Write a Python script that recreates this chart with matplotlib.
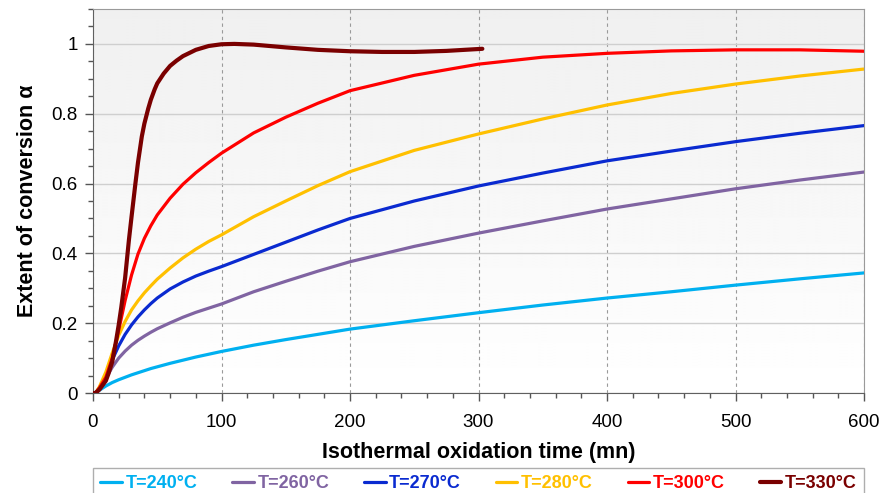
import numpy as np
import matplotlib
matplotlib.use("Agg")
import matplotlib.pyplot as plt
from matplotlib.ticker import MultipleLocator

plt.rcParams['font.family'] = ['Liberation Sans', 'DejaVu Sans']

# time grid (mn) shared by the five slower series
t = [0, 2, 5, 10, 15, 20, 25, 30, 35, 40, 45, 50, 60, 70, 80, 90, 100,
     125, 150, 175, 200, 250, 300, 350, 400, 450, 500, 550, 600]

a240 = [0, 0, 0.008, 0.02, 0.03, 0.038, 0.045, 0.052, 0.058, 0.064, 0.07, 0.075,
        0.085, 0.094, 0.103, 0.111, 0.119, 0.137, 0.153, 0.168, 0.183,
        0.207, 0.23, 0.252, 0.272, 0.29, 0.309, 0.327, 0.344]
a260 = [0, 0, 0.012, 0.042, 0.074, 0.10, 0.12, 0.137, 0.151, 0.163, 0.174, 0.184,
        0.201, 0.217, 0.231, 0.243, 0.255, 0.29, 0.32, 0.349, 0.376,
        0.42, 0.458, 0.493, 0.527, 0.556, 0.585, 0.61, 0.633]
a270 = [0, 0, 0.015, 0.05, 0.095, 0.135, 0.168, 0.195, 0.218, 0.238, 0.256, 0.272,
        0.298, 0.318, 0.335, 0.349, 0.362, 0.397, 0.432, 0.467, 0.50,
        0.55, 0.593, 0.63, 0.665, 0.693, 0.72, 0.744, 0.766]
a280 = [0, 0, 0.018, 0.06, 0.115, 0.165, 0.205, 0.238, 0.264, 0.287, 0.307, 0.326,
        0.358, 0.387, 0.412, 0.434, 0.453, 0.505, 0.55, 0.594, 0.634,
        0.695, 0.742, 0.785, 0.825, 0.858, 0.885, 0.908, 0.928]
a300 = [0, 0, 0.015, 0.045, 0.10, 0.18, 0.265, 0.338, 0.398, 0.443, 0.479, 0.51,
        0.558, 0.598, 0.631, 0.66, 0.687, 0.745, 0.79, 0.83, 0.866,
        0.91, 0.942, 0.962, 0.973, 0.98, 0.983, 0.983, 0.979]

# 330°C run stops around 300 mn
t330 = [0, 2, 5, 8, 10, 12, 15, 18, 20, 22, 25, 28, 30, 33, 35, 38, 40, 43, 45,
        48, 50, 55, 60, 65, 70, 80, 90, 100, 110, 125, 150, 175, 200, 225, 250,
        275, 303]
a330 = [0, 0, 0.01, 0.025, 0.035, 0.055, 0.09, 0.15, 0.195, 0.245, 0.33, 0.44, 0.505,
        0.60, 0.66, 0.735, 0.772, 0.815, 0.84, 0.87, 0.887, 0.915, 0.937, 0.952,
        0.965, 0.983, 0.994, 0.999, 1.0, 0.998, 0.99, 0.983, 0.979, 0.977, 0.977,
        0.98, 0.986]

labels = ['T=240°C', 'T=260°C', 'T=270°C', 'T=280°C', 'T=300°C', 'T=330°C']
colors = ['#00b0f0', '#8064a2', '#0a2ad0', '#ffc000', '#ff0000', '#7a0000']

fig = plt.figure(figsize=(8.91, 4.93), dpi=100)
ax = fig.add_axes([93 / 891, 100 / 493, 771 / 891, 384 / 493])

# light grey to white background
grad = np.linspace(0.94, 1.0, 256).reshape(-1, 1)
ax.imshow(grad, extent=[0, 1, 0, 1], transform=ax.transAxes, aspect='auto',
          cmap='gray', vmin=0, vmax=1, zorder=0)

series = [(t, a240), (t, a260), (t, a270), (t, a280), (t, a300), (t330, a330)]
for (x, y), lab, col in zip(series, labels, colors):
    lw = 3.0 if lab == 'T=330°C' else 2.3
    ax.plot(x, y, color=col, lw=lw, label=lab, zorder=3,
            solid_capstyle='round', solid_joinstyle='round')

ax.set_xlim(0, 600)
ax.set_ylim(0, 1.1)
ax.xaxis.set_major_locator(MultipleLocator(100))
ax.xaxis.set_minor_locator(MultipleLocator(20))
ax.yaxis.set_minor_locator(MultipleLocator(0.05))
ax.set_yticks([0, 0.2, 0.4, 0.6, 0.8, 1.0])
ax.set_yticklabels(['0', '0.2', '0.4', '0.6', '0.8', '1'])

ax.grid(axis='y', which='major', color='#cfcfcf', lw=1.0, zorder=1)
ax.grid(axis='x', which='major', color='#9a9a9a', lw=0.8, ls=(0, (3, 3)), zorder=1)

ax.tick_params(which='major', direction='out', length=6, width=1, colors='#555555',
               labelcolor='black', labelsize=13.5)
ax.tick_params(which='minor', direction='out', length=3.5, width=1, colors='#555555')
ax.tick_params(axis='x', pad=9)
ax.tick_params(axis='y', pad=5)

for side in ['top', 'right']:
    ax.spines[side].set_color('#9a9a9a')
for side in ['left', 'bottom']:
    ax.spines[side].set_color('#606060')

ax.set_xlabel('Isothermal oxidation time (mn)', fontsize=15.5, fontweight='bold', labelpad=8)
ax.set_ylabel('Extent of conversion α', fontsize=15.5, fontweight='bold', labelpad=10)

leg = fig.legend(loc='upper left', ncol=6, mode='expand',
                 bbox_to_anchor=(93 / 891, 25 / 493, 771 / 891, 0.0),
                 borderaxespad=0, fancybox=False, edgecolor='#9a9a9a',
                 labelcolor='linecolor', handlelength=1.2, handletextpad=0.2,
                 prop={'weight': 'bold', 'size': 13})
leg.get_frame().set_linewidth(1.0)

fig.savefig('out.png', dpi=100)
